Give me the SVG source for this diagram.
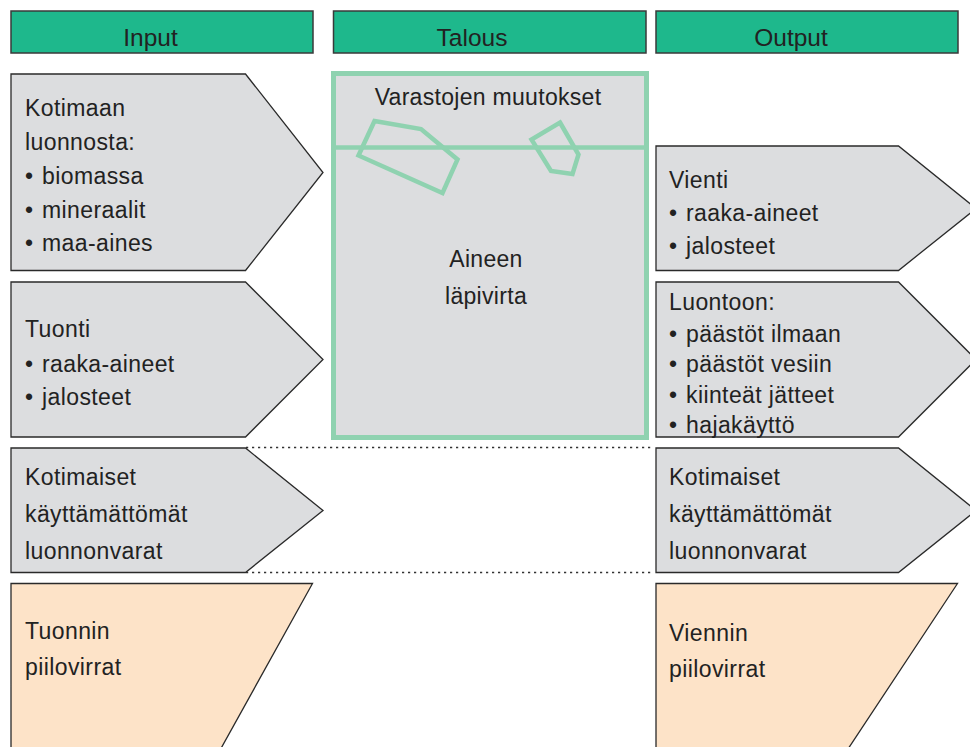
<svg xmlns="http://www.w3.org/2000/svg" width="970" height="747" viewBox="0 0 970 747">
  <style>
    .hdr { fill: #1eb88c; stroke: #3a3a3a; stroke-width: 1.5; }
    .flow { fill: #dcdddf; stroke: #2a2a2a; stroke-width: 1.3; stroke-linejoin: miter; }
    .hidden { fill: #fde3c8; stroke: #2a2a2a; stroke-width: 1.3; }
    .stock { fill: #dcdddf; stroke: #8fd2b0; stroke-width: 5; }
    .mark { fill: none; stroke: #8fd2b0; stroke-width: 4.5; stroke-linejoin: miter; }
    .sep { stroke: #333; stroke-width: 1.3; stroke-dasharray: 2.2 3.8; fill: none; }
    text { font-family: "Liberation Sans", Arial, sans-serif; fill: #222; }
    .ht { font-size: 24.5px; text-anchor: middle; }
    .t { font-size: 23px; letter-spacing: 0.4px; }
    .c { font-size: 23px; text-anchor: middle; letter-spacing: 0.3px; }
  </style>

  <!-- column headers -->
  <g id="hdr-input">
    <rect class="hdr" x="11" y="11" width="302" height="42"/>
    <text class="ht" x="150.5" y="45.5">Input</text>
  </g>
  <g id="hdr-talous">
    <rect class="hdr" x="333.5" y="11" width="312.5" height="42"/>
    <text class="ht" x="472" y="45.5">Talous</text>
  </g>
  <g id="hdr-output">
    <rect class="hdr" x="656" y="11" width="302" height="42"/>
    <text class="ht" x="791" y="45.5">Output</text>
  </g>

  <!-- separators -->
  <g id="connectors">
    <line class="sep" x1="246" y1="447.5" x2="652" y2="447.5"/>
    <line class="sep" x1="246" y1="572.5" x2="652" y2="572.5"/>
  </g>

  <!-- inputs -->
  <g id="in-domestic">
    <polygon class="flow" points="11,74 245.5,74 323,172.5 245.5,270.5 11,270.5"/>
    <text class="t" x="25" y="116">Kotimaan</text>
    <text class="t" x="25" y="150">luonnosta:</text>
    <text class="t" y="184"><tspan x="25">•</tspan><tspan x="42">biomassa</tspan></text>
    <text class="t" y="218"><tspan x="25">•</tspan><tspan x="42">mineraalit</tspan></text>
    <text class="t" y="251"><tspan x="25">•</tspan><tspan x="42">maa-aines</tspan></text>
  </g>
  <g id="in-import">
    <polygon class="flow" points="11,282 245.5,282 323,359.5 245.5,437 11,437"/>
    <text class="t" x="25" y="337">Tuonti</text>
    <text class="t" y="372"><tspan x="25">•</tspan><tspan x="42">raaka-aineet</tspan></text>
    <text class="t" y="405"><tspan x="25">•</tspan><tspan x="42">jalosteet</tspan></text>
  </g>
  <g id="in-unused">
    <polygon class="flow" points="11,448 245.5,448 323,510.5 245.5,572.5 11,572.5"/>
    <text class="t" x="25" y="485">Kotimaiset</text>
    <text class="t" x="25" y="522">käyttämättömät</text>
    <text class="t" x="25" y="559">luonnonvarat</text>
  </g>
  <g id="in-hidden">
    <polygon class="hidden" points="11,583.5 312.5,583.5 219,752 11,752"/>
    <text class="t" x="25" y="639">Tuonnin</text>
    <text class="t" x="25" y="675">piilovirrat</text>
  </g>

  <!-- economy -->
  <g id="economy">
    <rect class="stock" x="333.5" y="73.5" width="313" height="364"/>
    <line class="mark" x1="333.5" y1="147.5" x2="646.5" y2="147.5"/>
    <polygon class="mark" points="374.5,121 421,129 457.5,159.5 442.5,193 358.5,155.5"/>
    <polygon class="mark" points="560,122.5 578.5,154.5 572.5,174 551,171 531.5,139.5"/>
    <text class="c" x="488" y="104.5">Varastojen muutokset</text>
    <text class="c" x="486" y="267">Aineen</text>
    <text class="c" x="486" y="304">läpivirta</text>
  </g>

  <!-- outputs -->
  <g id="out-export">
    <polygon class="flow" points="656,146 898.5,146 976,208.5 898.5,270.5 656,270.5"/>
    <text class="t" x="669" y="188">Vienti</text>
    <text class="t" y="221"><tspan x="669">•</tspan><tspan x="686">raaka-aineet</tspan></text>
    <text class="t" y="254"><tspan x="669">•</tspan><tspan x="686">jalosteet</tspan></text>
  </g>
  <g id="out-nature">
    <polygon class="flow" points="656,282 898.5,282 976,359.5 898.5,437 656,437"/>
    <text class="t" x="669" y="310">Luontoon:</text>
    <text class="t" y="342"><tspan x="669">•</tspan><tspan x="686">päästöt ilmaan</tspan></text>
    <text class="t" y="372"><tspan x="669">•</tspan><tspan x="686">päästöt vesiin</tspan></text>
    <text class="t" y="403"><tspan x="669">•</tspan><tspan x="686">kiinteät jätteet</tspan></text>
    <text class="t" y="433"><tspan x="669">•</tspan><tspan x="686">hajakäyttö</tspan></text>
  </g>
  <g id="out-unused">
    <polygon class="flow" points="656,448 898.5,448 976,510.5 898.5,572.5 656,572.5"/>
    <text class="t" x="669" y="485">Kotimaiset</text>
    <text class="t" x="669" y="522">käyttämättömät</text>
    <text class="t" x="669" y="559">luonnonvarat</text>
  </g>
  <g id="out-hidden">
    <polygon class="hidden" points="656,583.5 957.5,583.5 846,752 656,752"/>
    <text class="t" x="669" y="641">Viennin</text>
    <text class="t" x="669" y="677">piilovirrat</text>
  </g>
</svg>
